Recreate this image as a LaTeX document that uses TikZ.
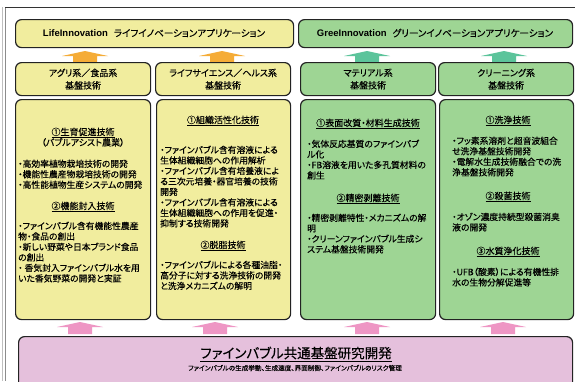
\documentclass[tikz,border=0pt]{standalone}
\usepackage{fontspec}
\setmainfont{Noto Sans CJK JP}[RawFeature=+palt, FakeBold=0.25]
\newfontfamily\latb{Liberation Sans}
\definecolor{yel}{RGB}{241,237,158}
\definecolor{grn}{RGB}{158,213,148}
\definecolor{pnk}{RGB}{229,192,220}
\definecolor{orarr}{RGB}{245,172,55}
\definecolor{grarr}{RGB}{92,196,155}
\definecolor{pkarr}{RGB}{238,150,196}
\definecolor{edge}{RGB}{35,35,35}
\newcommand\blockup[4]{% x, apex y, bottom y, colour
  \fill[#4] (#1,#2) -- (#1+23,#2+5) -- (#1+12,#2+5) -- (#1+12,#3) -- (#1-12,#3) -- (#1-12,#2+5) -- (#1-23,#2+5) -- cycle;}
\begin{document}
\begin{tikzpicture}[x=1pt,y=-1pt,
  box/.style={draw=edge, line width=1.2pt, rounded corners=6pt, anchor=north west, inner sep=0pt},
  yb/.style={box, fill=yel},
  gb/.style={box, fill=grn},
  pb/.style={box, fill=pnk},
  hd/.style={anchor=north, inner sep=0pt, align=center, font=\fontsize{9}{10.5}\selectfont},
  bd/.style={anchor=north west, inner sep=0pt, align=left, font=\fontsize{8.8}{10.5}\selectfont},
  cat/.style={inner sep=0pt, align=center, font=\fontsize{9}{12.5}\selectfont}]
\useasboundingbox (0,0) rectangle (575,381);
\fill[white] (0,0) rectangle (575,381);
% frame
\draw[black!25, line width=0.8pt] (2.5,7) -- (2.5,381);
\draw[black!45, line width=1pt] (5.5,7) -- (5.5,381);
\draw[black!80, line width=1.5pt] (5,7.5) -- (575,7.5);
% top application boxes
\node[yb, minimum width=278pt, minimum height=28pt] (life) at (15,19) {};
\node[gb, minimum width=274pt, minimum height=28pt] (green) at (298,19) {};
\node[font=\fontsize{9.5}{11}\selectfont, inner sep=0pt] (lifet) at (154,33) {{\latb\bfseries LifeInnovation}\hspace{6pt}ライフイノベーションアプリケーション};
\node[font=\fontsize{9.5}{11}\selectfont, inner sep=0pt] (greent) at (435,33) {{\latb\bfseries GreeInnovation}\hspace{6pt}グリーンイノベーションアプリケーション};
% arrows to applications
\blockup{85}{51}{62}{orarr}
\blockup{222}{51}{62}{orarr}
\blockup{367}{51}{62}{grarr}
\blockup{504}{51}{62}{grarr}
% category boxes
\node[yb, minimum width=135pt, minimum height=33pt] (c1) at (15,62) {};
\node[yb, minimum width=135pt, minimum height=33pt] (c2) at (155,62) {};
\node[gb, minimum width=135pt, minimum height=33pt] (c3) at (300,62) {};
\node[gb, minimum width=135pt, minimum height=33pt] (c4) at (438,62) {};
\node[cat] (c1t) at (c1.center) {アグリ系／食品系\\基盤技術};
\node[cat] (c2t) at (c2.center) {ライフサイエンス／ヘルス系\\基盤技術};
\node[cat] (c3t) at (c3.center) {マテリアル系\\基盤技術};
\node[cat] (c4t) at (c4.center) {クリーニング系\\基盤技術};
% detail boxes
\node[yb, minimum width=135pt, minimum height=220pt] (d1) at (15,99) {};
\node[yb, minimum width=134pt, minimum height=220pt] (d2) at (156,99) {};
\node[gb, minimum width=135pt, minimum height=220pt] (d3) at (300,99) {};
\node[gb, minimum width=134pt, minimum height=220pt] (d4) at (439,99) {};
% box 1
\node[hd] (d1h1) at (83,127.5) {\underline{①生育促進技術}\\（バブルアシスト農業）};
\node[bd] (d1b1) at (18,159.5) {・高効率植物栽培技術の開発\\・機能性農産物栽培技術の開発\\・高性能植物生産システムの開発};
\node[hd] (d1h2) at (83,201.5) {\underline{②機能封入技術}};
\node[bd] (d1b2) at (18,221.5) {・ファインバブル含有機能性農産\\物・食品の創出\\・新しい野菜や日本ブランド食品\\の創出\\・ 香気封入ファインバブル水を用\\いた香気野菜の開発と実証};
% box 2
\node[hd] (d2h1) at (223,115.5) {\underline{①組織活性化技術}};
\node[bd] (d2b1) at (160,145.5) {・ファインバブル含有溶液による\\生体組織細胞への作用解析\\・ファインバブル含有培養液によ\\る三次元培養・器官培養の技術\\開発\\・ファインバブル含有溶液による\\生体組織細胞への作用を促進・\\抑制する技術開発};
\node[hd] (d2h2) at (223,240.5) {\underline{②脱脂技術}};
\node[bd] (d2b2) at (160,260.5) {・ファインバブルによる各種油脂・\\高分子に対する洗浄技術の開発\\と洗浄メカニズムの解明};
% box 3
\node[hd] (d3h1) at (368,118.5) {\underline{①表面改質・材料生成技術}};
\node[bd] (d3b1) at (307,139.5) {・気体反応基質のファインバブ\\ル化\\・FB溶液を用いた多孔質材料の\\創生};
\node[hd] (d3h2) at (368,193.5) {\underline{②精密剥離技術}};
\node[bd] (d3b2) at (307,213.5) {・精密剥離特性・メカニズムの解\\明\\・クリーンファインバブル生成シ\\ステム基盤技術開発};
% box 4
\node[hd] (d4h1) at (508,115.5) {\underline{①洗浄技術}};
\node[bd] (d4b1) at (452,136.5) {・フッ素系溶剤と超音波組合\\せ洗浄基盤技術開発\\・電解水生成技術融合での洗\\浄基盤技術開発};
\node[hd] (d4h2) at (508,191.5) {\underline{②殺菌技術}};
\node[bd] (d4b2) at (452,212.5) {・オゾン濃度持続型殺菌消臭\\液の開発};
\node[hd] (d4h3) at (508,246.5) {\underline{③水質浄化技術}};
\node[bd] (d4b3) at (452,267.5) {・UFB（酸素）による有機性排\\水の生物分解促進等};
% arrows from base
\blockup{80}{322}{334}{pkarr}
\blockup{215}{322}{334}{pkarr}
\blockup{367}{322}{334}{pkarr}
\blockup{503}{322}{334}{pkarr}
% base box
\node[pb, minimum width=554pt, minimum height=52pt] (base) at (18,336) {};
\node[inner sep=0pt, font=\fontsize{13.5}{15}\selectfont] (baset) at (296,354) {\underline{ファインバブル共通基盤研究開発}};
\node[inner sep=0pt, font=\fontsize{6.6}{7.5}\selectfont] (bases) at (295,368) {ファインバブルの生成挙動、生成速度、界面制御、ファインバブルのリスク管理};
\end{tikzpicture}
\end{document}
